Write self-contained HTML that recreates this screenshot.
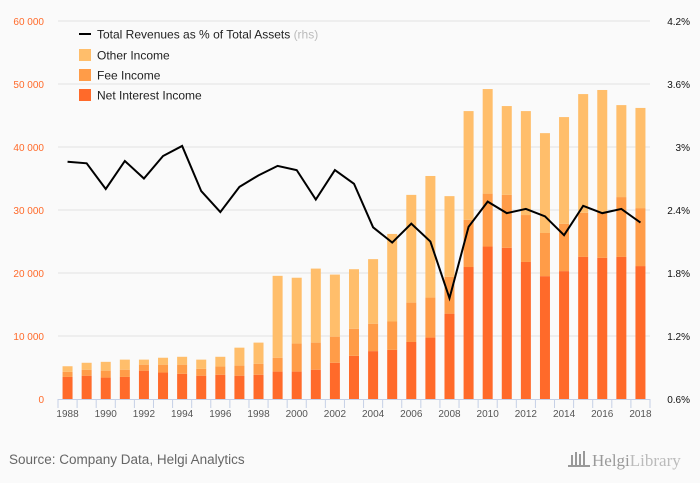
<!DOCTYPE html>
<html><head><meta charset="utf-8"><style>
body{margin:0;background:#fafafa;font-family:"Liberation Sans",sans-serif}
svg{display:block}
</style></head><body>
<svg width="700" height="483" viewBox="0 0 700 483" id="chart">
<rect x="0" y="0" width="700" height="483" fill="#fafafa"/>
<g id="grid"></g><g id="bars"></g><g id="line"></g><g id="axes"></g>
<g>
 <line x1="79" y1="34" x2="91" y2="34" stroke="#000" stroke-width="2"/>
 <text x="97" y="38.5" font-size="12" fill="#222">Total Revenues as % of Total Assets <tspan fill="#bbb">(rhs)</tspan></text>
 <rect x="79" y="49" width="12" height="12" fill="#ffbe6b"/>
 <text x="97" y="59.5" font-size="12" fill="#222">Other Income</text>
 <rect x="79" y="69" width="12" height="12" fill="#ff9c48"/>
 <text x="97" y="79.5" font-size="12" fill="#222">Fee Income</text>
 <rect x="79" y="89" width="12" height="12" fill="#ff6a2a"/>
 <text x="97" y="99.5" font-size="12" fill="#222">Net Interest Income</text>
</g>
<text x="9" y="464" font-size="13.5" fill="#666">Source: Company Data, Helgi Analytics</text>
<g fill="#999">
 <rect x="571" y="455" width="2" height="10"/><rect x="575" y="452" width="2" height="13"/><rect x="579" y="454" width="2" height="11"/><rect x="583" y="451" width="2" height="14"/><rect x="568" y="465" width="22" height="2"/>
 <text x="592" y="466" font-size="17" font-family="Liberation Serif,serif" fill="#999">Helgi<tspan fill="#bbb">Library</tspan></text>
</g>
</svg>
<script>
const years=[1988,1989,1990,1991,1992,1993,1994,1995,1996,1997,1998,1999,2000,2001,2002,2003,2004,2005,2006,2007,2008,2009,2010,2011,2012,2013,2014,2015,2016,2017,2018];
const netInterest=[3500,3700,3400,3500,4500,4200,4000,3700,3850,3700,3850,4350,4350,4650,5750,6850,7600,7800,9050,9750,13550,20950,24200,24000,21750,19500,20300,22550,22400,22550,21100];
const feeIncome=[800,950,1100,1150,950,1250,1450,1100,1300,1600,1750,2200,4450,4300,4150,4300,4350,4500,6250,6350,5850,7500,8400,8400,7450,6850,7500,7000,7200,9500,9200];
const otherIncome=[900,1100,1400,1600,800,1100,1250,1450,1550,2850,3350,13000,10450,11750,9850,9450,10250,13900,17100,19300,12800,17250,16600,14100,16500,15850,16950,18850,19450,14600,15900];
const ratio=[2.86,2.845,2.60,2.867,2.70,2.914,3.01,2.58,2.38,2.62,2.73,2.82,2.78,2.50,2.78,2.65,2.235,2.09,2.27,2.10,1.56,2.24,2.48,2.37,2.41,2.34,2.16,2.44,2.37,2.41,2.28];
const leftTicks=[0,10000,20000,30000,40000,50000,60000];
const leftLabels=["0","10 000","20 000","30 000","40 000","50 000","60 000"];
const rightTicks=[0.6,1.2,1.8,2.4,3.0,3.6,4.2];
const rightLabels=["0.6%","1.2%","1.8%","2.4%","3%","3.6%","4.2%"];
const NS="http://www.w3.org/2000/svg";
const X0=58,X1=650,Y0=399,Y1=21;
const band=(X1-X0)/years.length;
const xC=i=>X0+band*(i+0.5);
const yL=v=>Y0-(v/60000)*(Y0-Y1);
const yR=v=>Y0-((v-0.6)/3.6)*(Y0-Y1);
function mk(tag,attrs,parent){const e=document.createElementNS(NS,tag);for(const k in attrs)e.setAttribute(k,attrs[k]);parent.appendChild(e);return e;}
const grid=document.getElementById('grid'),bars=document.getElementById('bars'),line=document.getElementById('line'),axes=document.getElementById('axes');
leftTicks.forEach((t,i)=>{
 if(i>0){const g=mk('line',{x1:X0,x2:X1,y1:yL(t),y2:yL(t),stroke:'#e2e2e2','stroke-width':1},grid);
 
 }
 const l=mk('text',{x:44,y:yL(t)+4,'font-size':10,fill:'#ff6a2a','text-anchor':'end'},axes);l.textContent=leftLabels[i];
 
 
});
rightTicks.forEach((t,i)=>{
 const l=mk('text',{x:690,y:yR(t)+4,'font-size':10,fill:'#111','text-anchor':'end'},axes);l.textContent=rightLabels[i];
 
 
});
const ax=mk('line',{x1:X0,x2:X1,y1:Y0+0.5,y2:Y0+0.5,stroke:'#c5d0e6','stroke-width':1},axes);


for(let i=0;i<=years.length;i++){
 const tk=mk('line',{x1:X0+band*i,x2:X0+band*i,y1:Y0,y2:Y0+9,stroke:'#c5d0e6'},axes);
 
 
}
years.forEach((yr,i)=>{
 const a=netInterest[i],b=feeIncome[i],c=otherIncome[i],bw=10,x=xC(i)-bw/2;
 const r1=mk('rect',{x:x,y:yL(a),width:bw,height:Y0-yL(a),fill:'#ff6a2a'},bars);
 
 
 const r2=mk('rect',{x:x,y:yL(a+b),width:bw,height:yL(a)-yL(a+b),fill:'#ff9c48'},bars);
 
 
 const r3=mk('rect',{x:x,y:yL(a+b+c),width:bw,height:yL(a+b)-yL(a+b+c),fill:'#ffbe6b'},bars);
 
 
 if(i%2===0){const t=mk('text',{x:xC(i),y:417,'font-size':10,fill:'#555','text-anchor':'middle'},axes);t.textContent=yr;
 
 }
});
const pl=mk('polyline',{points:ratio.map((v,i)=>xC(i)+','+yR(v)).join(' '),fill:'none',stroke:'#000','stroke-width':2,'stroke-linejoin':'miter'},line);


</script>
</body></html>
